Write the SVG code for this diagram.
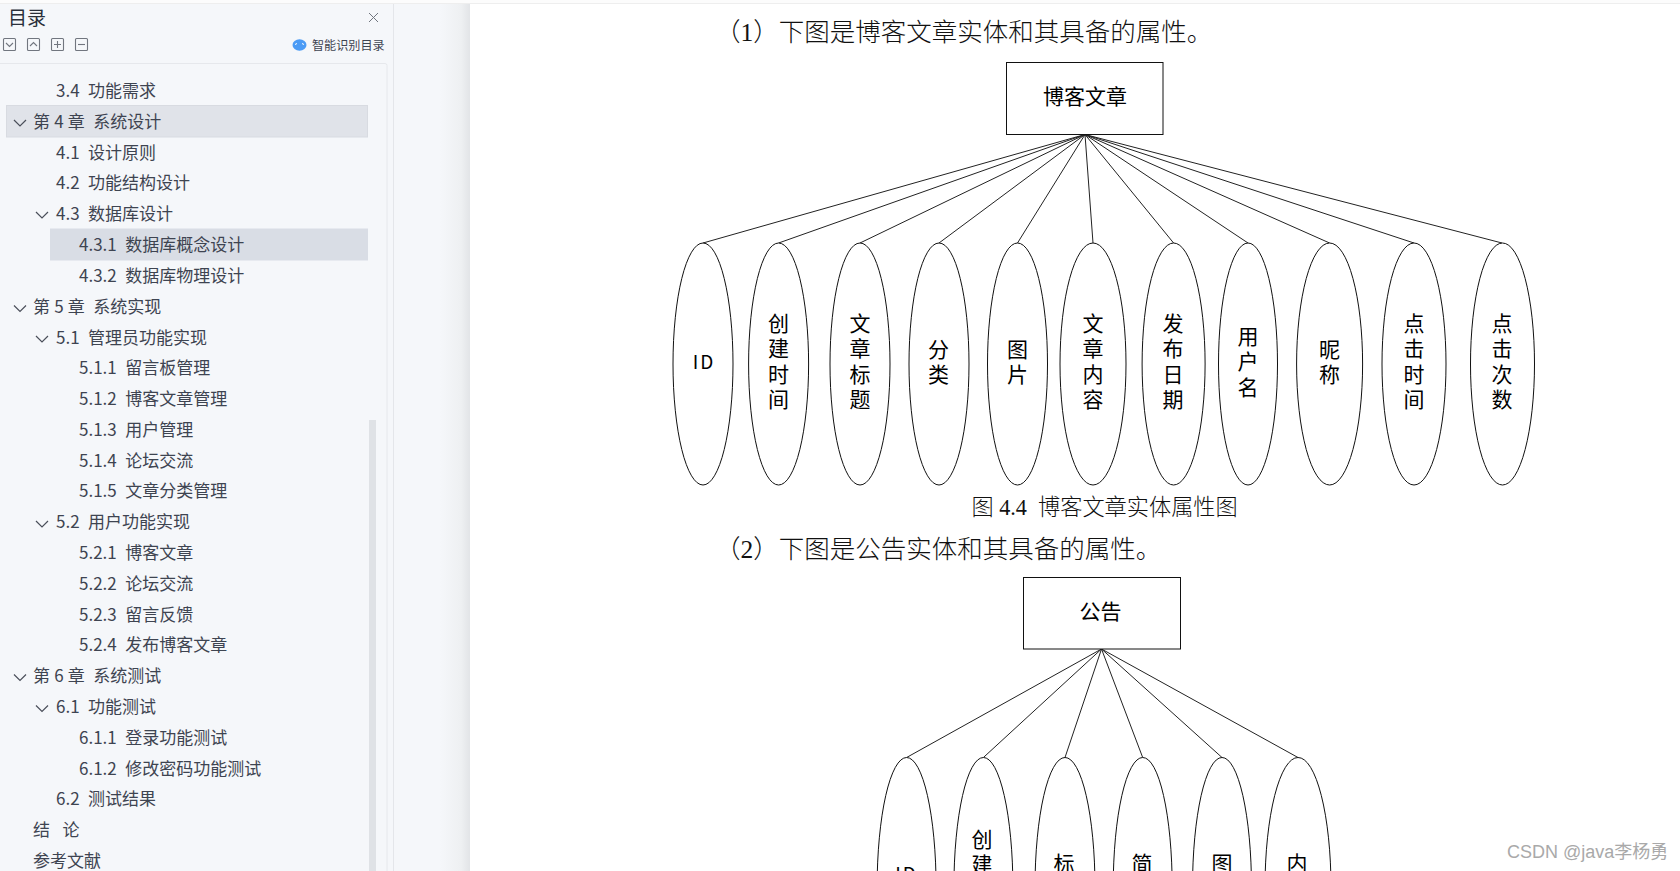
<svg xmlns="http://www.w3.org/2000/svg" width="1680" height="871" viewBox="0 0 1680 871">
<style>
text{font-family:"Noto Sans CJK SC","Noto Sans",sans-serif;white-space:pre}
.toc{font-size:17px;fill:#3e4451;word-spacing:.4px}
.body{font-family:"Liberation Serif","Noto Sans CJK SC",serif;font-size:25.5px;fill:#111;font-weight:300}
.cap{font-family:"Liberation Serif","Noto Sans CJK SC",serif;font-size:22px;fill:#111;font-weight:300}
.lab{font-size:21px;fill:#000;text-anchor:middle}
.shape{fill:#fff;stroke:#111;stroke-width:1}
.ln{stroke:#222;stroke-width:1;fill:none}
.chev{fill:none;stroke:#4a4f5a;stroke-width:1.2}
.ico{fill:none;stroke:#71767f;stroke-width:1.1}
</style>
<defs><linearGradient id="shade" x1="0" x2="1" y1="0" y2="0"><stop offset="0" stop-color="#f5f7fa"/><stop offset="0.7" stop-color="#eef0f2"/><stop offset="1" stop-color="#e2e4e7"/></linearGradient></defs>
<rect width="1680" height="871" fill="#fff"/>
<g id="sidebar">
<rect x="0" y="0" width="393" height="871" fill="#f5f7fa"/>
<rect x="394" y="0" width="46" height="871" fill="#f5f7fa"/>
<rect x="440" y="0" width="30" height="871" fill="url(#shade)"/>
<rect x="393" y="0" width="1" height="871" fill="#e4e6ea"/>
<path d="M0 63.5H385q2 0 2 2V871" fill="none" stroke="#e6e8ec"/>
<rect x="369" y="420" width="7" height="451" fill="#dfe2e6"/>
<rect x="0" y="0" width="1680" height="3" fill="#fcfcfc"/><rect x="0" y="3" width="1680" height="1" fill="#eeeeee"/>
<text x="8" y="25" style="font-size:19px;fill:#2a2f3a">目录</text>
<path d="M369 13l9 9M378 13l-9 9" fill="none" stroke="#71767f"/>
<rect class="ico" x="3.5" y="38.5" width="12" height="12" rx="1"/><path class="ico" d="M6 43l3.5 3.5L13 43"/>
<rect class="ico" x="27.5" y="38.5" width="12" height="12" rx="1"/><path class="ico" d="M30 46l3.5-3.5L37 46"/>
<rect class="ico" x="51.5" y="38.5" width="12" height="12" rx="1"/><path class="ico" d="M54 44.5h7M57.5 41v7"/>
<rect class="ico" x="75.5" y="38.5" width="12" height="12" rx="1"/><path class="ico" d="M78 44.5h7"/>
<ellipse cx="299.5" cy="45" rx="7" ry="5.8" fill="#4b9bf5"/><path d="M295 44.5l2-1M302 43.5l2 1" stroke="#fff" fill="none"/>
<text x="312" y="50" style="font-size:12.1px;fill:#3e4451">智能识别目录</text>
<rect x="6.5" y="105.5" width="361" height="31.5" fill="#e0e3e9" stroke="#d8dbe1"/>
<rect x="50" y="228.5" width="318" height="32" fill="#d9dde5"/>
<path class="chev" d="M14 120l6 6 6-6M36 212l6 6 6-6M14 305.500l6 6 6-6M36 336l6 6 6-6M36 521l6 6 6-6M14 674.500l6 6 6-6M36 705.500l6 6 6-6"/>
<text class="toc" x="56" y="97">3.4  功能需求</text>
<text class="toc" x="33" y="128">第 4 章  系统设计</text>
<text class="toc" x="56" y="158.500">4.1  设计原则</text>
<text class="toc" x="56" y="189">4.2  功能结构设计</text>
<text class="toc" x="56" y="220">4.3  数据库设计</text>
<text class="toc" x="79" y="251">4.3.1  数据库概念设计</text>
<text class="toc" x="79" y="282">4.3.2  数据库物理设计</text>
<text class="toc" x="33" y="312.500">第 5 章  系统实现</text>
<text class="toc" x="56" y="343.500">5.1  管理员功能实现</text>
<text class="toc" x="79" y="374">5.1.1  留言板管理</text>
<text class="toc" x="79" y="405">5.1.2  博客文章管理</text>
<text class="toc" x="79" y="436">5.1.3  用户管理</text>
<text class="toc" x="79" y="466.500">5.1.4  论坛交流</text>
<text class="toc" x="79" y="497">5.1.5  文章分类管理</text>
<text class="toc" x="56" y="528">5.2  用户功能实现</text>
<text class="toc" x="79" y="559">5.2.1  博客文章</text>
<text class="toc" x="79" y="590">5.2.2  论坛交流</text>
<text class="toc" x="79" y="620.500">5.2.3  留言反馈</text>
<text class="toc" x="79" y="651">5.2.4  发布博客文章</text>
<text class="toc" x="33" y="682">第 6 章  系统测试</text>
<text class="toc" x="56" y="713">6.1  功能测试</text>
<text class="toc" x="79" y="744">6.1.1  登录功能测试</text>
<text class="toc" x="79" y="774.500">6.1.2  修改密码功能测试</text>
<text class="toc" x="56" y="805">6.2  测试结果</text>
<text class="toc" x="33" y="836">结   论</text>
<text class="toc" x="33" y="867">参考文献</text>
</g>
<g id="page-text">
<text class="body" x="715" y="41">（1）下图是博客文章实体和其具备的属性。</text>
<text class="cap" x="971.500" y="514.500" style="font-size:22.2px">图 4.4  博客文章实体属性图</text>
<text class="body" x="715" y="558">（2）下图是公告实体和其具备的属性。</text>
<text x="1507" y="858" style="font-family:'Liberation Sans','Noto Sans CJK SC',sans-serif;font-size:18px;fill:#a9a9a9">CSDN @java李杨勇</text>
</g>
<g id="connectors">
<path class="ln" d="M1085 134.500L703 243M1085 134.500L778.600 243M1085 134.500L860 243M1085 134.500L939 243M1085 134.500L1017.500 243M1085 134.500L1093 243M1085 134.500L1173.600 243M1085 134.500L1248 243M1085 134.500L1329.600 243M1085 134.500L1414 243M1085 134.500L1502 243"/>
<path class="ln" d="M1101.500 649L906.600 757.500M1101.500 649L983.400 757.500M1101.500 649L1065 757.500M1101.500 649L1142.700 757.500M1101.500 649L1222 757.500M1101.500 649L1298 757.500"/>
</g>
<g id="blog-article"><rect class="shape" x="1006.500" y="62.500" width="156.500" height="72"/><text class="lab" x="1085" y="103.500">博客文章</text></g>
<g id="attr-id"><ellipse class="shape" cx="703" cy="364" rx="30" ry="121"/><text class="lab" x="704" y="369" style="font-size:19px;letter-spacing:2px">ID</text></g>
<g id="attr-created"><ellipse class="shape" cx="778.600" cy="364" rx="30" ry="121"/><text class="lab" y="331"><tspan x="778.600">创</tspan><tspan x="778.600" dy="25.300">建</tspan><tspan x="778.600" dy="25.300">时</tspan><tspan x="778.600" dy="25.300">间</tspan></text></g>
<g id="attr-title"><ellipse class="shape" cx="860" cy="364" rx="30" ry="121"/><text class="lab" y="331"><tspan x="860">文</tspan><tspan x="860" dy="25.300">章</tspan><tspan x="860" dy="25.300">标</tspan><tspan x="860" dy="25.300">题</tspan></text></g>
<g id="attr-category"><ellipse class="shape" cx="939" cy="364" rx="30" ry="121"/><text class="lab" y="356.500"><tspan x="938.500">分</tspan><tspan x="938.500" dy="25.300">类</tspan></text></g>
<g id="attr-image"><ellipse class="shape" cx="1017.500" cy="364" rx="30" ry="121"/><text class="lab" y="356.500"><tspan x="1017.500">图</tspan><tspan x="1017.500" dy="25.300">片</tspan></text></g>
<g id="attr-content"><ellipse class="shape" cx="1093" cy="364" rx="33" ry="121"/><text class="lab" y="331"><tspan x="1093">文</tspan><tspan x="1093" dy="25.300">章</tspan><tspan x="1093" dy="25.300">内</tspan><tspan x="1093" dy="25.300">容</tspan></text></g>
<g id="attr-date"><ellipse class="shape" cx="1173.600" cy="364" rx="31.500" ry="121"/><text class="lab" y="331"><tspan x="1173">发</tspan><tspan x="1173" dy="25.300">布</tspan><tspan x="1173" dy="25.300">日</tspan><tspan x="1173" dy="25.300">期</tspan></text></g>
<g id="attr-user"><ellipse class="shape" cx="1248" cy="364" rx="29.500" ry="121"/><text class="lab" y="344"><tspan x="1248">用</tspan><tspan x="1248" dy="25.300">户</tspan><tspan x="1248" dy="25.300">名</tspan></text></g>
<g id="attr-nick"><ellipse class="shape" cx="1329.600" cy="364" rx="33" ry="121"/><text class="lab" y="356.500"><tspan x="1329.600">昵</tspan><tspan x="1329.600" dy="25.300">称</tspan></text></g>
<g id="attr-clicktime"><ellipse class="shape" cx="1414" cy="364" rx="32" ry="121"/><text class="lab" y="331"><tspan x="1414">点</tspan><tspan x="1414" dy="25.300">击</tspan><tspan x="1414" dy="25.300">时</tspan><tspan x="1414" dy="25.300">间</tspan></text></g>
<g id="attr-clicks"><ellipse class="shape" cx="1502.500" cy="364" rx="32" ry="121"/><text class="lab" y="331"><tspan x="1502">点</tspan><tspan x="1502" dy="25.300">击</tspan><tspan x="1502" dy="25.300">次</tspan><tspan x="1502" dy="25.300">数</tspan></text></g>
<g id="notice"><rect class="shape" x="1023.500" y="577.500" width="157" height="71.500"/><text class="lab" x="1100.500" y="618.500">公告</text></g>
<g id="n-id"><ellipse class="shape" cx="906.600" cy="887.500" rx="29.500" ry="130"/><text class="lab" x="906.600" y="881" style="font-size:19px;letter-spacing:2px">ID</text></g>
<g id="n-created"><ellipse class="shape" cx="983.400" cy="887.500" rx="29.500" ry="130"/><text class="lab" y="846.500"><tspan x="982">创</tspan><tspan x="982" dy="25">建</tspan></text></g>
<g id="n-title"><ellipse class="shape" cx="1065" cy="887.500" rx="30" ry="130"/><text class="lab" x="1064" y="871">标</text></g>
<g id="n-intro"><ellipse class="shape" cx="1142.700" cy="887.500" rx="29.500" ry="130"/><text class="lab" x="1142" y="871">简</text></g>
<g id="n-image"><ellipse class="shape" cx="1222" cy="887.500" rx="29.500" ry="130"/><text class="lab" x="1222" y="871">图</text></g>
<g id="n-content"><ellipse class="shape" cx="1298" cy="887.500" rx="33" ry="130"/><text class="lab" x="1297" y="871">内</text></g>
</svg>
